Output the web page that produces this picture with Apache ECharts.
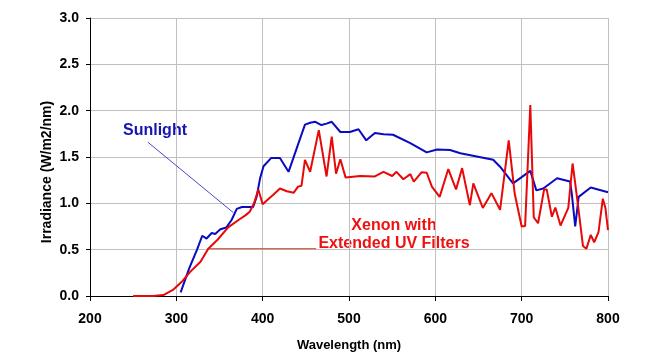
<!DOCTYPE html>
<html>
<head>
<meta charset="utf-8">
<script src="https://cdn.jsdelivr.net/npm/echarts@6/dist/echarts.min.js"></script>
<style>
html,body{margin:0;padding:0;background:#fff;}
#chart{width:664px;height:363px;}
</style>
</head>
<body>
<div id="chart"></div>
<script>
// Wavelength (nm) and irradiance (W/m2/nm)
var sunWavelength = [305,315,324,330,335,341,345,351,358,364,370,376,389,393,397,401,410,420,430,440,449,455,461,468,474,480,490,501,511,520,530,540,551,571,590,602,617,629,667,675,690,710,717,725,741,756,758,762,766,780,800];
var sunIrradiance = [0.04,0.30,0.50,0.65,0.62,0.68,0.67,0.72,0.74,0.82,0.94,0.96,0.96,1.07,1.27,1.40,1.49,1.49,1.34,1.61,1.85,1.87,1.88,1.845,1.86,1.88,1.77,1.77,1.80,1.68,1.76,1.745,1.74,1.65,1.55,1.58,1.575,1.54,1.47,1.395,1.215,1.35,1.14,1.16,1.27,1.235,1.11,0.75,1.07,1.17,1.12];

var xenonWavelength = [250,273,285,296,306,316,328,337,348,360,372,380,385,390,395,400,407,412,420,428,436,441,445,449,455,465,474,480,485,490,496,513,530,540,550,555,563,571,575,584,590,596,605,615,624,631,640,644,655,665,675,685,692,700,704,710,714,719,726,729,735,739,745,754,759,765,771,775,780,784,789,794,797,800];
var xenonIrradiance = [0,0,0.01,0.065,0.15,0.26,0.37,0.51,0.61,0.74,0.82,0.87,0.91,1.0,1.15,0.99,1.05,1.09,1.16,1.13,1.115,1.18,1.19,1.47,1.34,1.79,1.29,1.72,1.32,1.475,1.28,1.295,1.29,1.34,1.295,1.34,1.26,1.315,1.235,1.335,1.33,1.18,1.07,1.37,1.15,1.38,0.98,1.215,0.95,1.11,0.93,1.68,1.1,0.75,0.755,2.06,0.85,0.785,1.15,1.15,0.855,0.955,0.76,0.95,1.43,1.0,0.54,0.51,0.66,0.58,0.69,1.05,0.95,0.71];

// Annotation leader lines (data coordinates)
var sunLeaderX = [267, 366];
var sunLeaderY = [1.66, 0.90];
var xenonLeaderX = [336, 462];
var xenonLeaderY = [0.51, 0.51];

var xTicks = [200,300,400,500,600,700,800];
var yTicks = [0,0.5,1.0,1.5,2.0,2.5,3.0];

function pairs(xs, ys){ return xs.map(function(x,i){ return [x, ys[i]]; }); }

var font = '"Liberation Sans", Arial, sans-serif';
var chart = echarts.init(document.getElementById('chart'), null, {renderer:'canvas'});
chart.setOption({
  animation:false,
  backgroundColor:'#fff',
  grid:{left:90,right:56,top:18,bottom:67,containLabel:false},
  xAxis:{
    type:'value', min:xTicks[0], max:xTicks[xTicks.length-1], interval:100,
    name:'Wavelength (nm)', nameLocation:'middle', nameGap:43,
    nameTextStyle:{fontFamily:font,fontWeight:'bold',fontSize:13,color:'#000'},
    axisLine:{show:true,onZero:false,lineStyle:{color:'#000',width:1}},
    axisTick:{show:true,inside:false,length:5,lineStyle:{color:'#000'}},
    axisLabel:{fontFamily:font,fontWeight:'bold',fontSize:14,color:'#000',margin:16},
    splitLine:{show:true,lineStyle:{color:'#c0c0c0',width:1}}
  },
  yAxis:{
    type:'value', min:yTicks[0], max:yTicks[yTicks.length-1], interval:0.5,
    axisLine:{show:true,onZero:false,lineStyle:{color:'#000',width:1}},
    axisTick:{show:true,inside:false,length:4,lineStyle:{color:'#000'}},
    axisLabel:{fontFamily:font,fontWeight:'bold',fontSize:14,color:'#000',margin:11,
      formatter:function(v){return v.toFixed(1);}},
    splitLine:{show:true,lineStyle:{color:'#c0c0c0',width:1}}
  },
  graphic:[
    {type:'text', x:47, y:172, rotation:Math.PI/2,
      style:{text:'Irradiance (W/m2/nm)', fill:'#000', font:'bold 14px '+font, align:'center', verticalAlign:'middle'}},
    {type:'text', x:155, y:131,
      style:{text:'Sunlight', fill:'#1515b0', font:'bold 16px '+font, align:'center', verticalAlign:'middle'}},
    {type:'text', x:394, y:226,
      style:{text:'Xenon with', fill:'#ee1111', font:'bold 16px '+font, align:'center', verticalAlign:'middle'}},
    {type:'text', x:394, y:244,
      style:{text:'Extended UV Filters', fill:'#ee1111', font:'bold 16px '+font, align:'center', verticalAlign:'middle'}}
  ],
  series:[
    {type:'line', data:pairs(sunLeaderX,sunLeaderY), symbol:'none', silent:true,
      lineStyle:{color:'#4a4ac8',width:1}},
    {type:'line', data:pairs(xenonLeaderX,xenonLeaderY), symbol:'none', silent:true,
      lineStyle:{color:'#cc3a1a',width:1}},
    {type:'line', name:'Sunlight', data:pairs(sunWavelength,sunIrradiance), symbol:'none',
      lineStyle:{color:'#0a0ac0',width:2}},
    {type:'line', name:'Xenon', data:pairs(xenonWavelength,xenonIrradiance), symbol:'none',
      lineStyle:{color:'#e80808',width:2}}
  ]
});
</script>
</body>
</html>
